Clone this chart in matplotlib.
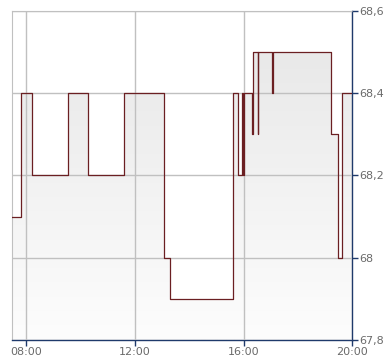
import numpy as np
import matplotlib
matplotlib.use('Agg')
import matplotlib.pyplot as plt
from matplotlib.colors import LinearSegmentedColormap

# step times (hours) and the price that holds from each time on
times = [7.47, 7.79, 8.21, 9.52, 10.28, 11.61, 13.07, 13.27, 15.61, 15.80,
         15.94, 15.98, 16.01, 16.32, 16.35, 16.51, 16.53, 17.05, 17.07,
         19.23, 19.48, 19.62]
prices = [68.1, 68.4, 68.2, 68.4, 68.2, 68.4, 68.0, 67.9, 68.4, 68.2,
          68.4, 68.2, 68.4, 68.3, 68.5, 68.3, 68.5, 68.4, 68.5,
          68.3, 68.0, 68.4]
t_end = 20.0

xticks = [8, 12, 16, 20]
xlabels = ['08:00', '12:00', '16:00', '20:00']
yticks = [67.8, 68.0, 68.2, 68.4, 68.6]
ylabels = ['67,8', '68', '68,2', '68,4', '68,6']

xx = np.array(times + [t_end])
yy = np.array(prices + [prices[-1]])

fig = plt.figure(figsize=(3.9, 3.64), dpi=100)
ax = fig.add_axes([12/390, 24/364, 340.3/390, 329/364])

xmin, xmax = times[0], t_end
ymin, ymax = 67.8, 68.6
ax.set_xlim(xmin, xmax)
ax.set_ylim(ymin, ymax)

# grey gradient fill under the step line
poly = ax.fill_between(xx, yy, ymin, step='post', color='none', lw=0)
cmap = LinearSegmentedColormap.from_list('g', ['#fdfdfd', '#e6e6e6'])
grad = np.linspace(0, 1, 256).reshape(-1, 1)
im = ax.imshow(grad, cmap=cmap, extent=[xmin, xmax, ymin, ymax], origin='lower',
               aspect='auto', zorder=1)
im.set_clip_path(poly.get_paths()[0], transform=ax.transData)

ax.step(xx, yy, where='post', color='#6b1f22', lw=0.9, zorder=3)

ax.set_xticks(xticks)
ax.set_xticklabels(xlabels)
ax.set_yticks(yticks)
ax.set_yticklabels(ylabels)
ax.grid(True, color='#c0c0c0', lw=1, zorder=2)
ax.set_axisbelow(False)
for l in ax.get_xgridlines() + ax.get_ygridlines():
    l.set_zorder(2)

ax.yaxis.tick_right()
ax.tick_params(axis='both', colors='#1f3a6b', labelcolor='#6a6a6a', labelsize=8,
               length=4, width=1, direction='out', pad=1)
for s in ['left', 'top']:
    ax.spines[s].set_color('#c0c0c0')
for s in ['right', 'bottom']:
    ax.spines[s].set_color('#1f3a6b')
    ax.spines[s].set_linewidth(1)

fig.savefig('out.png', dpi=100)
